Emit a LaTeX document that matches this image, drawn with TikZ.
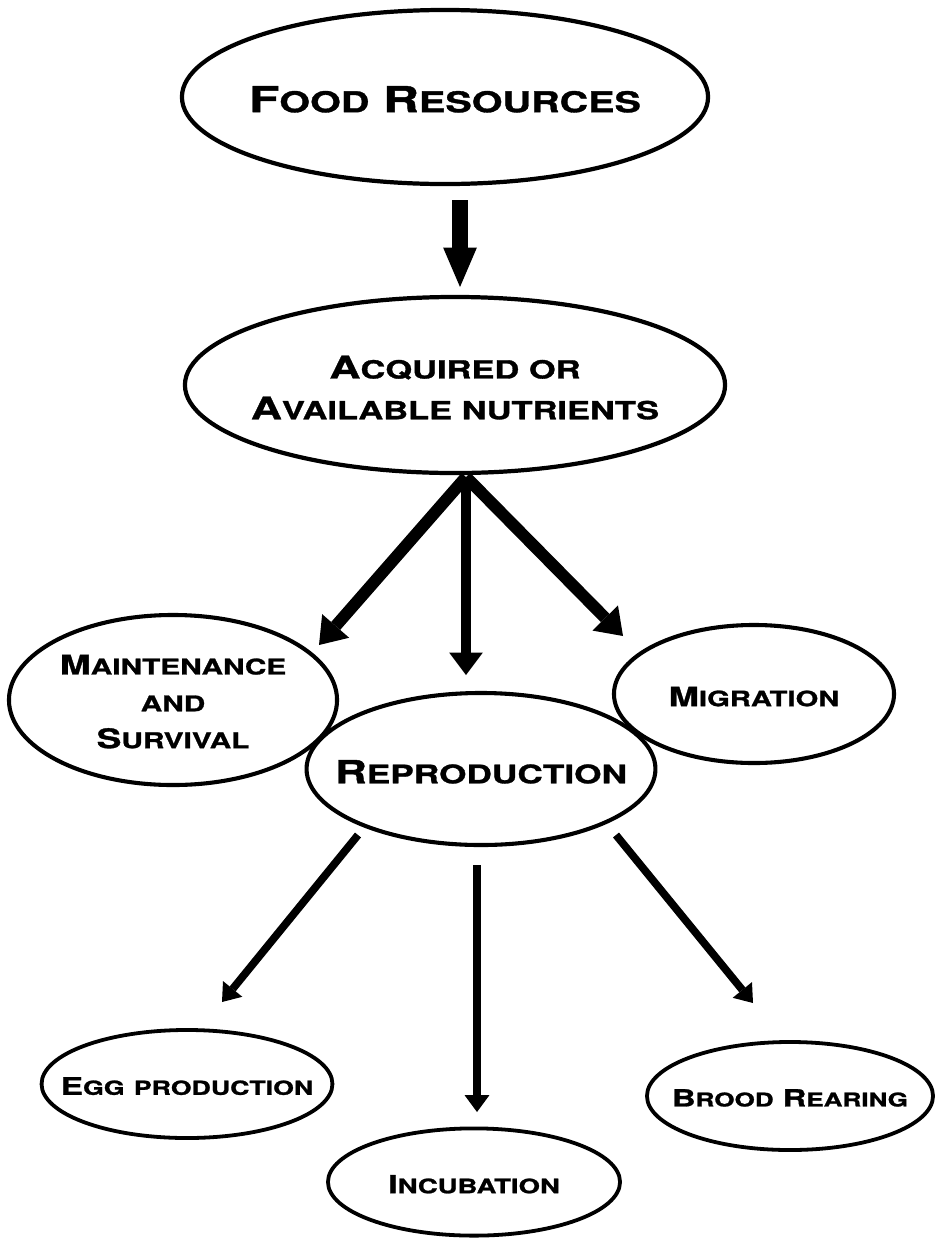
\documentclass[tikz,border=0pt]{standalone}
\usepackage{fontspec}
\usepackage{tikz}
\newfontfamily\copfont[FakeStretch=1.38, BoldFeatures={FakeBold=1.2}]{TeX Gyre Heros}
\usetikzlibrary{arrows.meta}
\usetikzlibrary{calc}
\usetikzlibrary{shapes.geometric}
\newcommand{\sm}[1]{\scalebox{0.8}{#1}}
\newcommand{\cg}[2]{\copfont\bfseries\fontsize{#1}{#2}\selectfont}
\newcommand{\lbl}[1]{\makebox[0pt]{\raisebox{\dimexpr0.2\baselineskip-0.61em-1.5pt\relax}[0pt][0pt]{%
    \begin{tabular}{@{}c@{}}#1\end{tabular}}}}
\tikzset{bubble/.style = {draw, ellipse, inner sep=0pt, line width=2.7pt},
         fat/.style = {line width=11.3pt,
                       -{Triangle[width=24pt,length=28pt,line width=0pt]}},
         side/.style = {line width=8.5pt,
                        -{Triangle[width=25.5pt,length=18pt,line width=0pt]}},
         down/.style = {line width=7.8pt,
                        -{Triangle[width=24pt,length=16pt,line width=0pt]}},
         thin/.style = {line width=5.5pt,
                        -{Triangle[width=17.7pt,length=12pt,line width=0pt]}}}

\begin{document}
\begin{tikzpicture}[x=0.025cm, y=-0.025cm]
    \useasboundingbox (0,0) rectangle (935,1238);

    % ellipses
    \node [bubble, line width=3pt, minimum width=13.15cm, minimum height=4.35cm,
           font=\cg{25.5}{30}] (food) at (445,97) {\lbl{F\sm{OOD} R\sm{ESOURCES}}};
    \node [bubble, line width=3pt, minimum width=13.5cm, minimum height=4.4cm,
           font=\cg{22.2}{29}] (acq) at (455,385)
          {\lbl{A\sm{CQUIRED OR}\\A\sm{VAILABLE NUTRIENTS}}};
    \node [bubble, line width=2.9pt, minimum width=8.2cm, minimum height=4.25cm,
           font=\cg{19.2}{26.2}] (maint) at (173,700)
          {\lbl{M\sm{AINTENANCE}\\\sm{AND}\\S\sm{URVIVAL}}};
    \node [bubble, line width=2.9pt, minimum width=8.72cm, minimum height=3.8cm,
           font=\cg{22.7}{28}] (repro) at (481,769) {\lbl{R\sm{EPRODUCTION}}};
    \node [bubble, line width=2.9pt, minimum width=7cm, minimum height=3.45cm,
           font=\cg{18.8}{24}] (migr) at (754,694) {\lbl{M\sm{IGRATION}}};
    \node [bubble, minimum width=7.27cm, minimum height=2.7cm,
           font=\cg{17.2}{22}] (egg) at (187,1084) {\lbl{E\sm{GG} \sm{PRODUCTION}}};
    \node [bubble, minimum width=7.3cm, minimum height=2.68cm,
           font=\cg{17.7}{22}] (incub) at (474,1182) {\lbl{I\sm{NCUBATION}}};
    \node [bubble, minimum width=7.15cm, minimum height=2.7cm,
           font=\cg{16.8}{22}] (brood) at (790,1096) {\lbl{B\sm{ROOD} R\sm{EARING}}};

    % arrows
    \draw [fat] ($(food)+(15,103)$) -- ($(acq)+(5,-98)$);

    \coordinate (fork) at ($(acq)+(11,92)$);
    \draw [side] (fork) -- ($(maint)+(146,-55)$);
    \draw [down] (fork) -- ($(repro)+(-15,-94)$);
    \draw [side] (fork) -- ($(migr)+(-131,-58)$);

    \draw [thin] ($(repro)+(-123,66)$) -- ($(egg)+(35,-82)$);
    \draw [thin] ($(repro)+(-4,96)$) -- ($(incub)+(3,-70)$);
    \draw [thin] ($(repro)+(135,66)$) -- ($(brood)+(-37,-93)$);
\end{tikzpicture}
\end{document}
